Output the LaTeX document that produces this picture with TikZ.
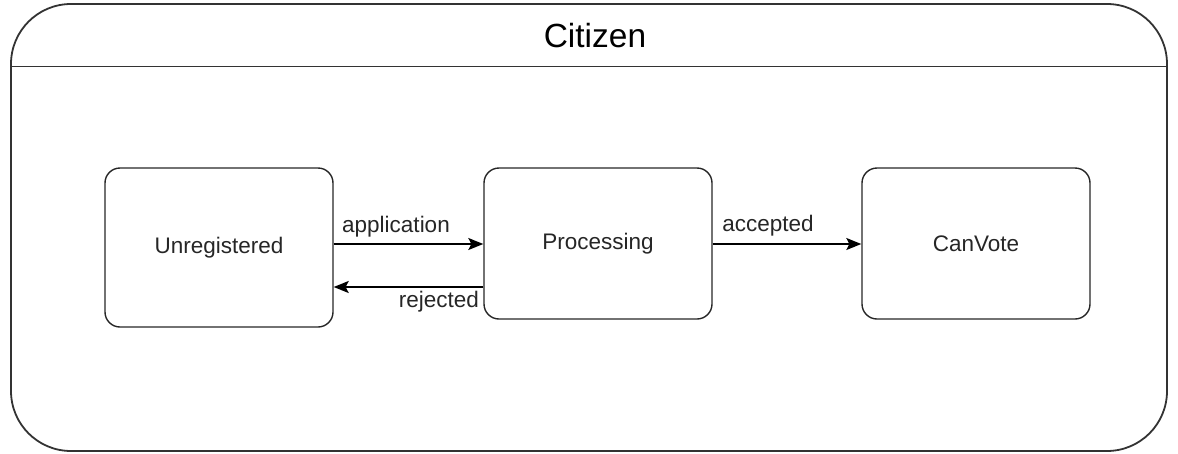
\documentclass[tikz,border=0pt]{standalone}
\usepackage{fontspec}
\setmainfont{Liberation Sans}
\usetikzlibrary{arrows.meta}
\begin{document}
\begin{tikzpicture}[x=1pt,y=-1pt,
  state/.style={draw=black!85,line width=1.4pt,rounded corners=15pt,minimum width=228pt,font=\fontsize{22.5}{26}\selectfont,text=black!85,inner sep=0pt},
  lbl/.style={font=\fontsize{22.5}{26}\selectfont,text=black!85,inner sep=0pt},
  arr/.style={draw=black,line width=1.4pt,-{Stealth[length=15pt,width=12pt,inset=3pt]}}]
\useasboundingbox (0,0) rectangle (1178,453);
\draw[line width=1.8pt,draw=black!80,rounded corners=60pt] (11,4) rectangle (1167,451);
\coordinate (hl) at (11,66.5);
\coordinate (hr) at (1167,66.5);
\draw[line width=1.8pt,draw=black!80] (hl) -- (hr);
\node[font=\fontsize{33.5}{38}\selectfont,inner sep=0pt] (title) at (595,36) {Citizen};
\node[state,minimum height=159pt] (unreg) at (219,247.5) {Unregistered};
\node[state,minimum height=151pt] (proc) at (598,243.5) {Processing};
\node[state,minimum height=151pt] (vote) at (976,243.5) {CanVote};
\coordinate (ya) at (0,244);
\coordinate (yr) at (0,287);
\draw[arr] (unreg.east |- ya) -- (proc.west |- ya);
\draw[arr] (proc.west |- yr) -- (unreg.east |- yr);
\draw[arr] (proc.east |- ya) -- (vote.west |- ya);
\node[lbl] (la) at (396,227) {application};
\node[lbl,anchor=east] (lr) at (479,302) {rejected};
\node[lbl] (lc) at (768,226) {accepted};
\end{tikzpicture}
\end{document}
